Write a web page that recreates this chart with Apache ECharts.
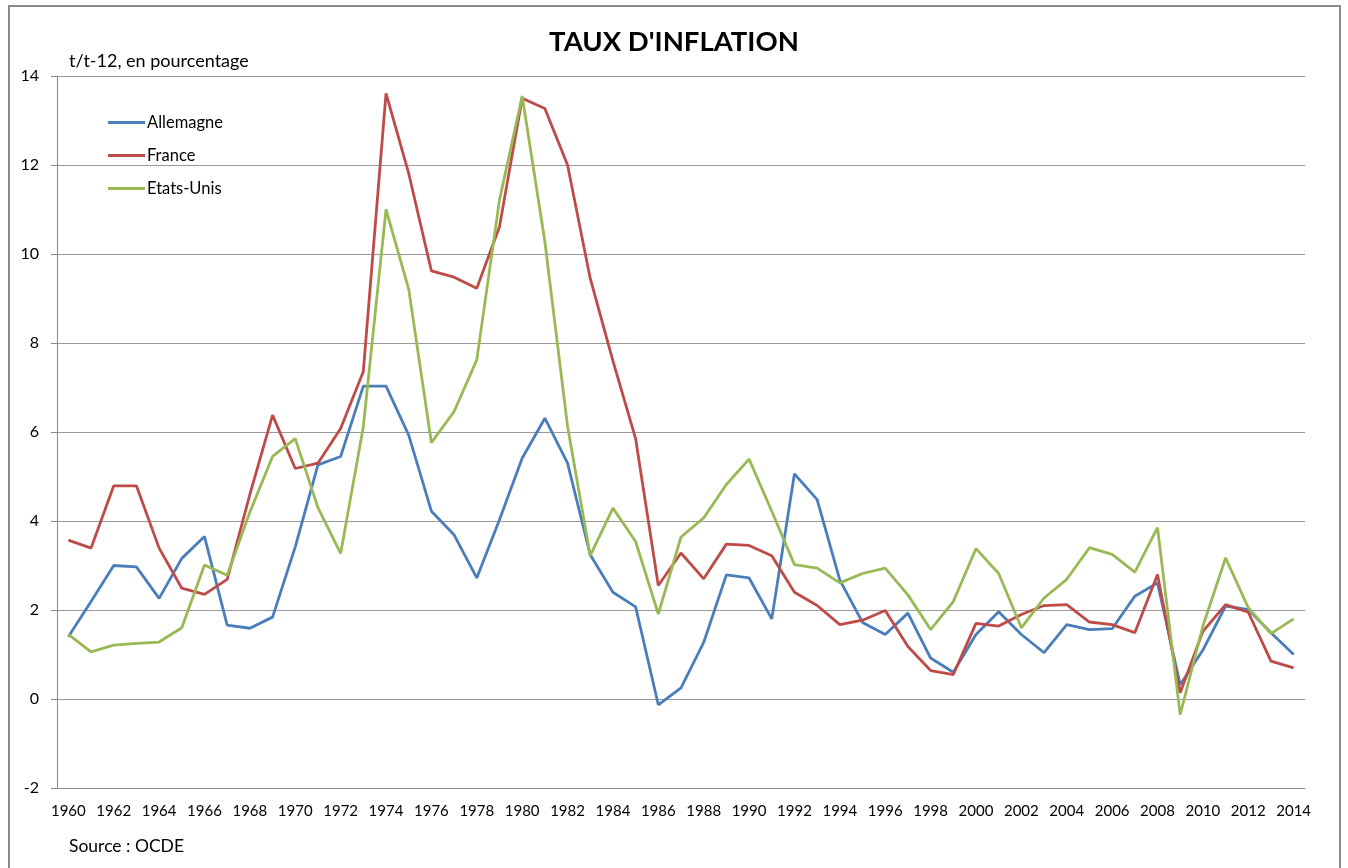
<!DOCTYPE html>
<html><head><meta charset="utf-8">
<script src="https://cdn.jsdelivr.net/npm/echarts@6/dist/echarts.min.js"></script>
<style>html,body{margin:0;padding:0;background:#fff}#c{width:1348px;height:868px}</style>
</head><body><div id="c"></div>
<script>
const years = [];
for (let y = 1960; y <= 2014; y++) years.push(String(y));
const allemagne = [1.40,2.19,3.00,2.97,2.26,3.16,3.65,1.66,1.59,1.84,
  3.42,5.26,5.45,7.03,7.03,5.93,4.22,3.69,2.72,4.03,
  5.41,6.31,5.30,3.24,2.40,2.07,-0.13,0.25,1.27,2.79,
  2.72,1.80,5.06,4.48,2.67,1.72,1.45,1.93,0.92,0.60,
  1.45,1.96,1.45,1.04,1.67,1.56,1.58,2.31,2.61,0.32,
  1.10,2.09,2.01,1.49,1.00];
const france = [3.57,3.39,4.79,4.79,3.39,2.49,2.35,2.69,4.60,6.38,
  5.18,5.30,6.08,7.36,13.61,11.81,9.62,9.48,9.23,10.61,
  13.50,13.27,12.00,9.45,7.60,5.85,2.55,3.28,2.70,3.48,
  3.45,3.22,2.40,2.10,1.67,1.77,1.99,1.18,0.64,0.55,
  1.70,1.64,1.90,2.10,2.12,1.73,1.67,1.49,2.80,0.14,
  1.52,2.12,1.95,0.85,0.70];
const etatsUnis = [1.45,1.06,1.21,1.25,1.28,1.60,3.01,2.78,4.20,5.45,
  5.85,4.30,3.27,6.12,11.00,9.21,5.76,6.46,7.62,11.21,
  13.55,10.28,6.13,3.22,4.29,3.54,1.91,3.64,4.07,4.82,
  5.39,4.22,3.02,2.94,2.61,2.82,2.94,2.34,1.56,2.19,
  3.38,2.82,1.60,2.27,2.69,3.40,3.25,2.85,3.85,-0.35,
  1.64,3.17,2.05,1.47,1.80];
const seriesNames = ['Allemagne','France','Etats-Unis'];
const colors = ['#4A7EBB','#BE4B48','#98B954'];

const font = 'Lato, "Open Sans", sans-serif';
const chart = echarts.init(document.getElementById('c'));
const mk = (name, data, color) => ({
  name, type: 'line', data, symbol: 'none', smooth: false,
  lineStyle: { color, width: 2.8 }, itemStyle: { color },
  emphasis: { disabled: true }
});
chart.setOption({
  animation: false,
  backgroundColor: '#fff',
  textStyle: { fontFamily: font },
  title: [
    { text: "TAUX D'INFLATION", left: 'center', top: 23,
      textStyle: { fontFamily: font, fontSize: 27.5, fontWeight: 'bold', color: '#000' } },
    { text: 't/t-12, en pourcentage', left: 64, top: 47,
      textStyle: { fontFamily: font, fontSize: 18, fontWeight: 'normal', color: '#000' } },
    { text: 'Source : OCDE', left: 64, top: 832,
      textStyle: { fontFamily: font, fontSize: 17.5, fontWeight: 'normal', color: '#000' } }
  ],
  legend: {
    data: seriesNames, orient: 'vertical', left: 108, top: 114, padding: 0,
    icon: 'rect', itemWidth: 37, itemHeight: 3, itemGap: 16,
    textStyle: { fontFamily: font, fontSize: 16.5, color: '#000', padding: [0,0,0,-3] }
  },
  grid: { left: 57, right: 43, top: 76, bottom: 80, containLabel: false },
  xAxis: {
    type: 'category', data: years, boundaryGap: true,
    axisLine: { onZero: false, lineStyle: { color: '#888', width: 1 } },
    axisTick: { inside: true, length: 5, interval: 0, lineStyle: { color: '#888' } },
    axisLabel: { interval: 1, margin: 16, fontFamily: font, fontSize: 15, color: '#000' },
    splitLine: { show: false }
  },
  yAxis: {
    type: 'value', min: -2, max: 14, interval: 2,
    axisLine: { show: true, lineStyle: { color: '#888', width: 1 } },
    axisTick: { show: true, inside: false, length: 6, lineStyle: { color: '#888' } },
    axisLabel: { margin: 18, fontFamily: font, fontSize: 16, color: '#000' },
    splitLine: { lineStyle: { color: '#999', width: 1 } }
  },
  graphic: [{
    type: 'rect', shape: { x: 9, y: 6, width: 1331, height: 900 },
    style: { fill: 'none', stroke: '#8a8a8a', lineWidth: 2 }, silent: true, z: 100
  }],
  series: [mk(seriesNames[0], allemagne, colors[0]), mk(seriesNames[1], france, colors[1]), mk(seriesNames[2], etatsUnis, colors[2])]
});
</script></body></html>
